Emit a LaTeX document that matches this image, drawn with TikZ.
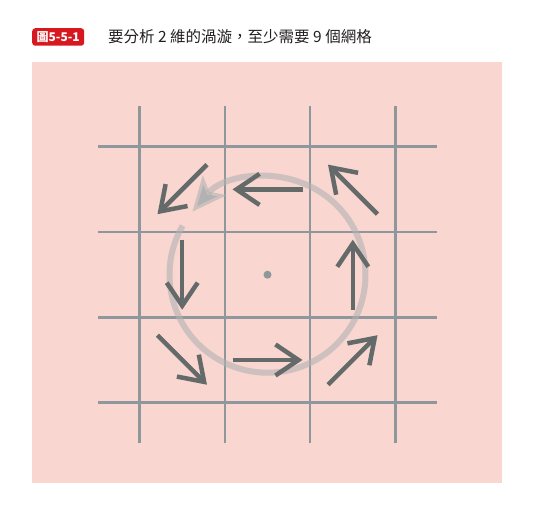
\documentclass[tikz,border=0pt]{standalone}
\usepackage{xcolor}
\usepackage{fontspec}
\usepackage{tikz}
\usetikzlibrary{arrows.meta,calc}
\newfontfamily\cjk{Noto Sans CJK TC}

\definecolor{bgpink}{HTML}{F9D6D0}
\definecolor{gridgray}{HTML}{8E979B}
\definecolor{flowgray}{HTML}{646A6A}
\definecolor{labelred}{HTML}{D7181F}
\definecolor{titletext}{HTML}{231F20}

\begin{document}
\begin{tikzpicture}[x=1pt, y=1pt, >={Straight Barb[length=23pt,width=31pt]}]
    \tikzstyle{gridline} = [draw=gridgray, line width=2.5pt]
    \tikzstyle{flow} = [draw=flowgray, line width=4.5pt, ->]
    \tikzstyle{vortex} = [draw=gray!60, draw opacity=0.6, line width=6pt,
        -{Stealth[length=34pt,width=30pt,inset=8pt]}]
    \tikzstyle{tag} = [fill=labelred, rounded corners=3pt, text=white,
        font=\cjk\bfseries\fontsize{12}{12}\selectfont, minimum width=52pt,
        minimum height=17.5pt, inner sep=0pt]

    \useasboundingbox (0,0) rectangle (536,518);
    \fill[bgpink] (32,35.3) rectangle (502,456.3);

    % title
    \node [tag] (tag) at (58.2,481) {圖5-5-1};
    \node [anchor=west, text=titletext, inner sep=0pt,
        font=\cjk\fontsize{15.5}{15.5}\selectfont] (title) at (108,481)
        {要分析 2 維的渦漩，至少需要 9 個網格};

    % 4x4 grid lines around the centre
    \coordinate (c) at (267.5,243.3);
    \foreach \k in {-1.5,-0.5,0.5,1.5} {
        \path [gridline] ($(c)+(\k*85.3,-168.6)$) -- ($(c)+(\k*85.3,168.6)$);
        \path [gridline] ($(c)+(-169.2,\k*85.3)$) -- ($(c)+(169.2,\k*85.3)$);
    }

    % swirl
    \path [vortex] ($(c)+(150:98)$) arc[start angle=150, end angle=500, radius=98];
    \fill [gridgray] (c) circle (4pt);

    % flow in the eight outer cells
    \foreach \a/\r [count=\i] in {0/85.3, 45/120.6, 90/85.3, 135/120.6,
                                  180/85.3, 225/120.6, 270/85.3, 315/120.6} {
        \coordinate (cell\i) at ($(c)+(\a:\r)$);
        \coordinate (from\i) at ($(cell\i)+(\a-90:35)$);
        \coordinate (to\i) at ($(cell\i)+(\a+90:35)$);
        \path [flow] (from\i) -- (to\i);
    }
\end{tikzpicture}
\end{document}
